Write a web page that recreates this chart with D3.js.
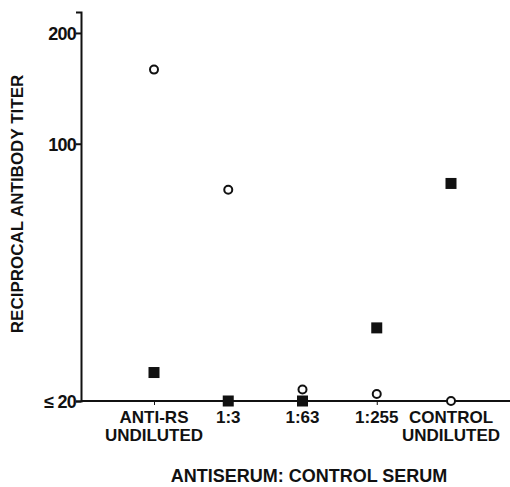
<!DOCTYPE html>
<html>
<head>
<meta charset="utf-8">
<script src="https://cdn.jsdelivr.net/npm/d3@7"></script>
<style>
  body { margin: 0; background: #fff; }
  svg text { font-family: "Liberation Sans", Arial, sans-serif; font-weight: bold; fill: #111; }
</style>
</head>
<body>
<div id="chart"></div>
<script>
// categories along the x axis (two lines each)
var categories = [["ANTI-RS", "UNDILUTED"], ["1:3"], ["1:63"], ["1:255"], ["CONTROL", "UNDILUTED"]];
// open circles and filled squares, reciprocal titer
var circleValues = [159, 75, 21.5, 20.9, 20];
var squareValues = [23.9, 20, 20, 31.6, 78];
var yTicks = [20, 100, 200];
var yTickLabels = ["\u2264 20", "100", "200"];

var width = 510, height = 487;
var margin = {top: 12, right: 0, bottom: 86, left: 81};

var svg = d3.select("#chart").append("svg")
    .attr("width", width)
    .attr("height", height);

var g = svg.append("g")
    .attr("transform", "translate(" + margin.left + "," + margin.top + ")");

var innerW = width - margin.left - margin.right,
    innerH = height - margin.top - margin.bottom;

var x = d3.scalePoint()
    .domain(d3.range(categories.length))
    .range([73, 370]);

var y = d3.scaleLog()
    .domain([20, 228])
    .range([innerH, 0]);

// y axis
var yAxis = g.append("g")
    .call(d3.axisLeft(y).tickValues(yTicks).tickSize(5).tickFormat(function(d, i) { return yTickLabels[i]; }));
yAxis.select(".domain").attr("stroke", "#111").attr("stroke-width", 2);
yAxis.selectAll(".tick line").attr("stroke", "#111").attr("stroke-width", 2);
yAxis.selectAll(".tick text")
    .attr("x", -5)
    .attr("dy", "0.36em")
    .style("font-size", "18px")
    .style("font-weight", "bold")
    .style("letter-spacing", "-0.8px")
    .attr("fill", "#111");

// x axis
var xAxis = g.append("g")
    .attr("transform", "translate(0," + innerH + ")")
    .call(d3.axisBottom(x).tickSize(4).tickFormat(""));
xAxis.select(".domain").attr("d", "M0,0H" + innerW).attr("stroke", "#111").attr("stroke-width", 2);
xAxis.selectAll(".tick line").attr("stroke", "#111").attr("stroke-width", 1);

// category labels
var lab = g.append("g").selectAll("text.cat")
    .data(categories)
    .enter().append("text")
    .attr("class", "cat")
    .attr("text-anchor", "middle")
    .attr("transform", function(d, i) { return "translate(" + x(i) + "," + (innerH + 22) + ")"; })
    .style("font-size", "17px")
    .style("font-weight", "bold");
lab.selectAll("tspan")
    .data(function(d) { return d; })
    .enter().append("tspan")
    .attr("x", 0)
    .attr("dy", function(d, j) { return j ? 18 : 0; })
    .text(function(d) { return d; });

// squares
var sq = 11;
g.selectAll("rect.sq")
    .data(squareValues)
    .enter().append("rect")
    .attr("class", "sq")
    .attr("x", function(d, i) { return x(i) - sq / 2; })
    .attr("y", function(d) { return y(d) - sq / 2; })
    .attr("width", sq).attr("height", sq)
    .attr("fill", "#111");

// circles
g.selectAll("circle.pt")
    .data(circleValues)
    .enter().append("circle")
    .attr("class", "pt")
    .attr("cx", function(d, i) { return x(i); })
    .attr("cy", function(d) { return y(d); })
    .attr("r", 4)
    .attr("fill", "#fff")
    .attr("stroke", "#111")
    .attr("stroke-width", 2);

// axis titles
svg.append("text")
    .attr("transform", "translate(23,204) rotate(-90)")
    .attr("text-anchor", "middle")
    .style("font-size", "17px")
    .style("font-weight", "bold")
    .text("RECIPROCAL ANTIBODY TITER");

svg.append("text")
    .attr("x", 309).attr("y", 482)
    .attr("text-anchor", "middle")
    .style("font-size", "18px")
    .style("font-weight", "bold")
    .text("ANTISERUM: CONTROL SERUM");
</script>
</body>
</html>
